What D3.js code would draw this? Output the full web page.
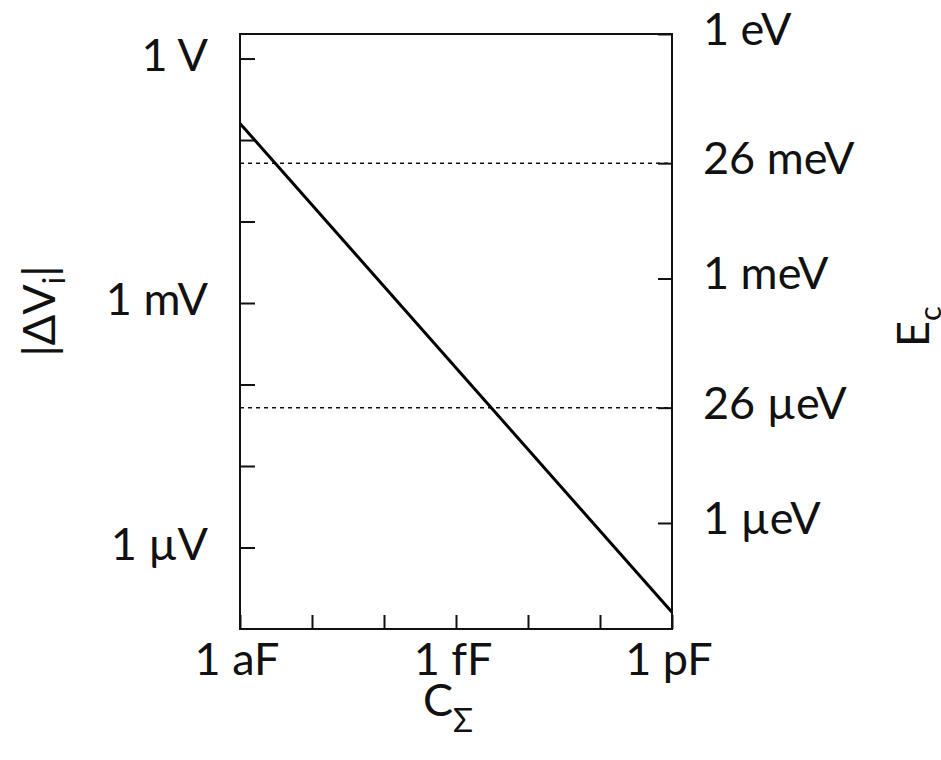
<!DOCTYPE html>
<html>
<head>
<meta charset="utf-8">
<script src="https://cdn.jsdelivr.net/npm/d3@7"></script>
<style>
  body { margin: 0; background: #fff; }
  svg text { font-family: Lato, "Open Sans", sans-serif; fill: #111; }
  .axis path { display: none; }
  .axis line { stroke: #111; stroke-width: 2; }
</style>
</head>
<body>
<div id="chart"></div>
<script>
// capacitance (F) and charging voltage |dV| = e / C (V)
var capacitance = [1e-18, 1e-12];
var voltage = [0.16, 1.6e-7];

// reference energies drawn as dotted lines (eV)
var refEnergies = [0.026, 26e-6];

// ticks and labels
var xTicks = [1e-18, 1e-17, 1e-16, 1e-15, 1e-14, 1e-13, 1e-12];
var xLabels = [[1e-18, "1 aF"], [1e-15, "1 fF"], [1e-12, "1 pF"]];
var yTicks = [1, 1e-1, 1e-2, 1e-3, 1e-4, 1e-5, 1e-6];
var yLabels = [[1, "1 V"], [1e-3, "1 mV"], [1e-6, "1 µV"]];
var eTicks = [1, 0.026, 1e-3, 26e-6, 1e-6];
var eLabels = ["1 eV", "26 meV", "1 meV", "26 µeV", "1 µeV"];

var margin = {top: 34, right: 269, bottom: 131, left: 240},
    width = 941 - margin.left - margin.right,
    height = 760 - margin.top - margin.bottom;

var svg = d3.select("#chart").append("svg")
    .attr("width", 941)
    .attr("height", 760)
    .append("g")
    .attr("transform", "translate(" + margin.left + "," + margin.top + ")");

// Scales
var x = d3.scaleLog().domain([1e-18, 1e-12]).range([0, width]);
var y = d3.scaleLog().domain([1e-7, 2]).range([height, 0]);
var yE = d3.scaleLog().domain([5e-8, 1]).range([height, 0]);

// Ticks, pointing inward
svg.append("g")
    .attr("class", "axis")
    .attr("transform", "translate(0," + height + ")")
    .call(d3.axisTop(x).tickValues(xTicks).tickSize(14).tickFormat(""));

svg.append("g")
    .attr("class", "axis")
    .call(d3.axisRight(y).tickValues(yTicks).tickSize(15).tickFormat(""));

svg.append("g")
    .attr("class", "axis")
    .attr("transform", "translate(" + width + ",0)")
    .call(d3.axisLeft(yE).tickValues(eTicks).tickSize(14).tickFormat(""));

// Dotted reference lines
svg.selectAll(".ref")
    .data(refEnergies)
    .enter().append("line")
    .attr("class", "ref")
    .attr("x1", 0)
    .attr("x2", width)
    .attr("y1", function (d) { return yE(d); })
    .attr("y2", function (d) { return yE(d); })
    .attr("stroke", "#111")
    .attr("stroke-width", 1.5)
    .attr("stroke-dasharray", "4,4");

// Charging voltage line
var pts = capacitance.map(function (c, i) { return [c, voltage[i]]; });
svg.append("path")
    .datum(pts)
    .attr("fill", "none")
    .attr("stroke", "#000")
    .attr("stroke-width", 3)
    .attr("d", d3.line()
        .x(function (d) { return x(d[0]); })
        .y(function (d) { return y(d[1]); }));

// Frame
svg.append("rect")
    .attr("width", width)
    .attr("height", height)
    .attr("fill", "none")
    .attr("stroke", "#111")
    .attr("stroke-width", 2);

// Tick labels
svg.selectAll(".xlab")
    .data(xLabels)
    .enter().append("text")
    .attr("x", function (d) { return x(d[0]) - 3; })
    .attr("y", height + 46)
    .attr("text-anchor", "middle")
    .style("font-size", "45px")
    .text(function (d) { return d[1]; });

svg.selectAll(".ylab")
    .data(yLabels)
    .enter().append("text")
    .attr("x", -32)
    .attr("y", function (d) { return y(d[0]) + 12; })
    .attr("text-anchor", "end")
    .style("font-size", "45px")
    .text(function (d) { return d[1]; });

svg.selectAll(".elab")
    .data(eTicks)
    .enter().append("text")
    .attr("x", width + 31)
    .attr("y", function (d) { return yE(d) + 11; })
    .style("font-size", "45px")
    .text(function (d, i) { return eLabels[i]; });

// Axis titles
var xt = svg.append("text")
    .attr("x", x(1e-15) - 8)
    .attr("y", height + 87)
    .attr("text-anchor", "middle")
    .style("font-size", "45px");
xt.append("tspan").text("C");
xt.append("tspan").attr("dy", 16).style("font-size", "33px").text("Σ");

var yt = svg.append("text")
    .attr("transform", "translate(-185," + (y(1e-3) + 8) + ") rotate(-90)")
    .attr("text-anchor", "middle")
    .style("font-size", "45px");
yt.append("tspan").text("|ΔV");
yt.append("tspan").attr("dy", 10).style("font-size", "31px").text("i");
yt.append("tspan").attr("dy", -10).text("|");

var et = svg.append("text")
    .attr("transform", "translate(" + (width + 257) + "," + (yE(1e-3) + 48) + ") rotate(-90)")
    .attr("text-anchor", "middle")
    .style("font-size", "45px");
et.append("tspan").text("E");
et.append("tspan").attr("dy", 12).style("font-size", "31px").text("c");
</script>
</body>
</html>
